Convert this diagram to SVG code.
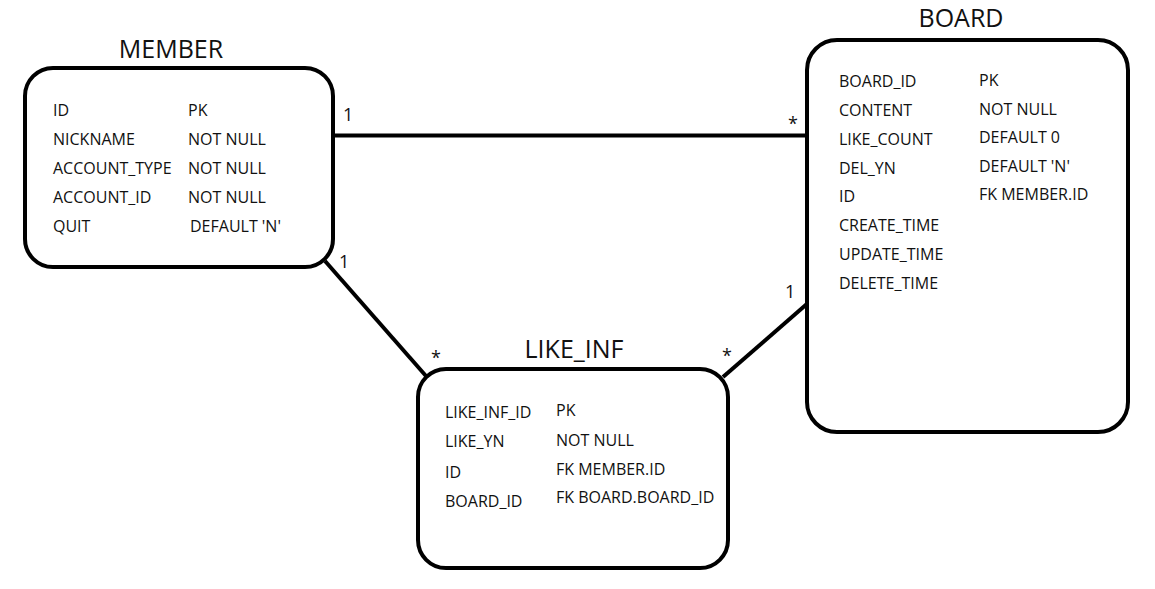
<svg xmlns="http://www.w3.org/2000/svg" width="1155" height="589" viewBox="0 0 1155 589">
<style>
.box{fill:#fff;stroke:#000;stroke-width:4}
.t{font-family:"Open Sans","Noto Sans",sans-serif;font-size:16px;fill:#111}
.h{font-family:"Open Sans","Noto Sans",sans-serif;font-size:25px;fill:#111;text-anchor:middle}
.c{stroke:#000;stroke-width:4;fill:none}
.m{font-family:"Open Sans","Noto Sans",sans-serif;font-size:18px;fill:#111}
</style>
<rect width="1155" height="589" fill="#fff"/>
<g id="connectors">
<line class="c" x1="333" y1="135.5" x2="807" y2="135.5"/>
<line class="c" x1="325" y1="261" x2="426" y2="376"/>
<line class="c" x1="723" y1="377" x2="808" y2="303"/>
<text class="m" x="343" y="121">1</text>
<text class="m" x="788" y="130">*</text>
<text class="m" x="339" y="268">1</text>
<text class="m" x="431" y="364">*</text>
<text class="m" x="785" y="298">1</text>
<text class="m" x="722" y="362">*</text>
</g>
<g id="member">
<rect class="box" x="25" y="68" width="308" height="199" rx="28"/>
<text class="h" x="171" y="58">MEMBER</text>
<text class="t" x="53" y="116">ID</text>
<text class="t" x="53" y="145">NICKNAME</text>
<text class="t" x="53" y="174">ACCOUNT_TYPE</text>
<text class="t" x="53" y="203">ACCOUNT_ID</text>
<text class="t" x="53" y="232">QUIT</text>
<text class="t" x="188" y="116">PK</text>
<text class="t" x="188" y="145">NOT NULL</text>
<text class="t" x="188" y="174">NOT NULL</text>
<text class="t" x="188" y="203">NOT NULL</text>
<text class="t" x="190" y="232">DEFAULT 'N'</text>
</g>
<g id="board">
<rect class="box" x="807" y="40" width="321" height="392" rx="30"/>
<text class="h" x="961" y="27">BOARD</text>
<text class="t" x="839" y="87">BOARD_ID</text>
<text class="t" x="839" y="116">CONTENT</text>
<text class="t" x="839" y="145">LIKE_COUNT</text>
<text class="t" x="839" y="174">DEL_YN</text>
<text class="t" x="839" y="202">ID</text>
<text class="t" x="839" y="231">CREATE_TIME</text>
<text class="t" x="839" y="260">UPDATE_TIME</text>
<text class="t" x="839" y="289">DELETE_TIME</text>
<text class="t" x="979" y="86">PK</text>
<text class="t" x="979" y="115">NOT NULL</text>
<text class="t" x="979" y="143">DEFAULT 0</text>
<text class="t" x="979" y="172">DEFAULT 'N'</text>
<text class="t" x="979" y="200">FK MEMBER.ID</text>
</g>
<g id="like_inf">
<rect class="box" x="418" y="369" width="310" height="199" rx="28"/>
<text class="h" x="574" y="358">LIKE_INF</text>
<text class="t" x="445" y="418">LIKE_INF_ID</text>
<text class="t" x="445" y="447">LIKE_YN</text>
<text class="t" x="445" y="478">ID</text>
<text class="t" x="445" y="507">BOARD_ID</text>
<text class="t" x="556" y="416">PK</text>
<text class="t" x="556" y="446">NOT NULL</text>
<text class="t" x="556" y="475">FK MEMBER.ID</text>
<text class="t" x="556" y="503">FK BOARD.BOARD_ID</text>
</g>
</svg>
